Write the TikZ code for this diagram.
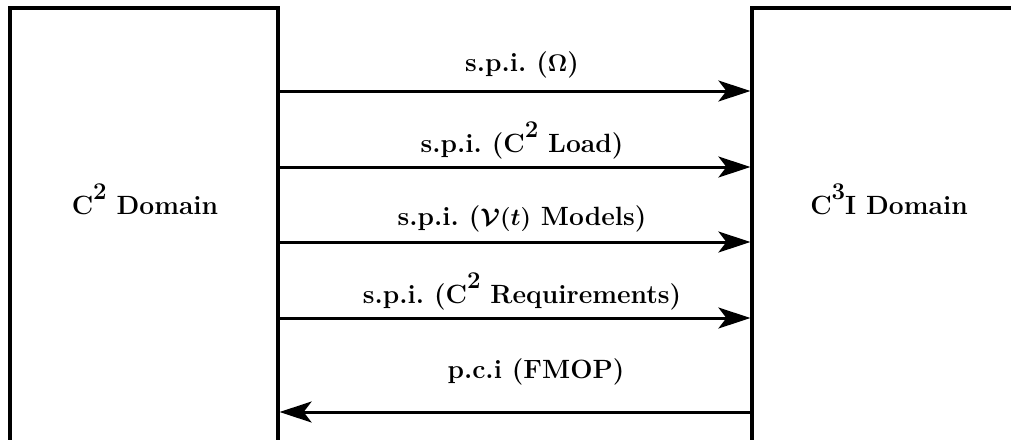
\documentclass[tikz,border=0pt]{standalone}
\usetikzlibrary{arrows.meta}
% raised full-height digit used for the C^2 / C^3 exponents
\newcommand\supdig[1]{\raisebox{7.5pt}{\fontsize{12}{13}\selectfont #1}}
\newcommand\labelfont{\fontsize{13.2}{15}\selectfont\bfseries\boldmath}
\begin{document}
\frenchspacing
\begin{tikzpicture}[x=0.5pt,y=-0.5pt,
  domainbox/.style={draw, line width=1.6pt, inner sep=0pt},
  boxtext/.style={font=\labelfont, anchor=base, inner sep=0pt},
  flow/.style={line width=1.5pt, -{Stealth[length=16pt,width=10.5pt,inset=4pt]}},
  tag/.style={font=\labelfont, anchor=base, inner sep=0pt, xshift=3.5pt}]
\useasboundingbox (0,0) rectangle (1011,439);
\clip (0,0) rectangle (1011,439);
% the two domains (their lower and right parts run past the frame)
\node[domainbox, minimum width=134pt, minimum height=240pt] (c2) at (144,248) {};
\node[domainbox, minimum width=137pt, minimum height=240pt] (c3) at (889,248) {};
\node[boxtext] (t2) at (145,214) {C\supdig{2} Domain};
\node[boxtext] (t3) at (889,214) {C\supdig{3}I Domain};
% rows of the information flows
\coordinate (r1) at (0,91);
\coordinate (r2) at (0,167);
\coordinate (r3) at (0,242);
\coordinate (r4) at (0,318);
\coordinate (r5) at (0,412);
\draw[flow] (c2.east |- r1) -- node[tag, yshift=10pt] (l1) {s.p.i. ($\Omega$)} (c3.west |- r1);
\draw[flow] (c2.east |- r2) -- node[tag, yshift=7.5pt] (l2) {s.p.i. (C\supdig{2} Load)} (c3.west |- r2);
\draw[flow] (c2.east |- r3) -- node[tag, yshift=8.5pt] (l3) {s.p.i. ($\mathcal{V}(t)$ Models)} (c3.west |- r3);
\draw[flow] (c2.east |- r4) -- node[tag, yshift=7.5pt] (l4) {s.p.i. (C\supdig{2} Requirements)} (c3.west |- r4);
\draw[flow] (c3.west |- r5) -- node[tag, yshift=17pt, xshift=7pt] (l5) {p.c.i (FMOP)} (c2.east |- r5);
\end{tikzpicture}
\end{document}
